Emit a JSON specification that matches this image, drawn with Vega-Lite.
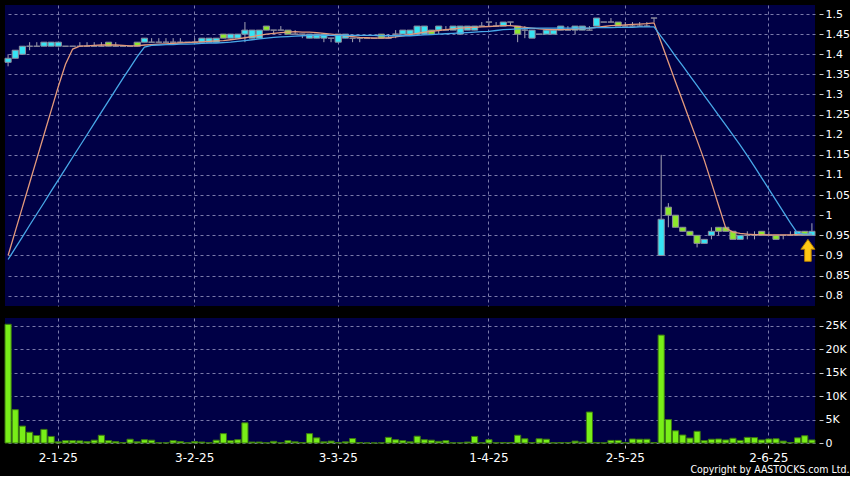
{
  "$schema": "https://vega.github.io/schema/vega-lite/v6.json",
  "background": "#000000",
  "padding": {"left": 4, "top": 5, "right": 0, "bottom": 0},
  "spacing": 12,
  "config": {
    "view": {"fill": "#000046", "stroke": null},
    "axis": {"gridColor": "#7a7aaa", "gridDash": [3, 3], "gridWidth": 1, "labelColor": "#ffffff", "labelFont": "DejaVu Sans", "domain": false, "tickColor": "#cccccc", "title": null, "labelOverlap": false}
  },
  "title": {"text": "Copyright by AASTOCKS.com Ltd.", "orient": "bottom", "anchor": "end", "color": "#ffffff", "fontSize": 10.5, "fontWeight": "normal", "font": "DejaVu Sans Condensed, Liberation Sans", "offset": 2},
  "datasets": {
    "d": [
      {"date": "19-12-24", "open": 1.38, "high": 1.40, "low": 1.37, "close": 1.39, "volume": 25300, "ma10": 0.90, "ma20": 0.89},
      {"date": "20-12-24", "open": 1.39, "high": 1.41, "low": 1.39, "close": 1.41, "volume": 7100, "ma10": 0.96, "ma20": 0.918},
      {"date": "23-12-24", "open": 1.40, "high": 1.42, "low": 1.40, "close": 1.42, "volume": 3600, "ma10": 1.02, "ma20": 0.946},
      {"date": "24-12-24", "open": 1.42, "high": 1.43, "low": 1.41, "close": 1.42, "volume": 2300, "ma10": 1.08, "ma20": 0.975},
      {"date": "27-12-24", "open": 1.42, "high": 1.43, "low": 1.42, "close": 1.42, "volume": 1600, "ma10": 1.14, "ma20": 1.003},
      {"date": "30-12-24", "open": 1.42, "high": 1.43, "low": 1.42, "close": 1.43, "volume": 2900, "ma10": 1.20, "ma20": 1.031},
      {"date": "31-12-24", "open": 1.42, "high": 1.43, "low": 1.42, "close": 1.43, "volume": 1400, "ma10": 1.26, "ma20": 1.06},
      {"date": "2-1-25", "open": 1.42, "high": 1.43, "low": 1.42, "close": 1.43, "volume": 250, "ma10": 1.32, "ma20": 1.088},
      {"date": "3-1-25", "open": 1.42, "high": 1.42, "low": 1.42, "close": 1.42, "volume": 500, "ma10": 1.375, "ma20": 1.116},
      {"date": "6-1-25", "open": 1.42, "high": 1.42, "low": 1.42, "close": 1.42, "volume": 500, "ma10": 1.413, "ma20": 1.144},
      {"date": "7-1-25", "open": 1.42, "high": 1.43, "low": 1.42, "close": 1.42, "volume": 450, "ma10": 1.42, "ma20": 1.172},
      {"date": "8-1-25", "open": 1.42, "high": 1.43, "low": 1.42, "close": 1.42, "volume": 300, "ma10": 1.421, "ma20": 1.20},
      {"date": "9-1-25", "open": 1.42, "high": 1.43, "low": 1.42, "close": 1.42, "volume": 600, "ma10": 1.422, "ma20": 1.228},
      {"date": "10-1-25", "open": 1.42, "high": 1.43, "low": 1.42, "close": 1.42, "volume": 1650, "ma10": 1.423, "ma20": 1.256},
      {"date": "13-1-25", "open": 1.43, "high": 1.43, "low": 1.42, "close": 1.42, "volume": 500, "ma10": 1.423, "ma20": 1.284},
      {"date": "14-1-25", "open": 1.42, "high": 1.43, "low": 1.42, "close": 1.42, "volume": 300, "ma10": 1.423, "ma20": 1.312},
      {"date": "15-1-25", "open": 1.42, "high": 1.42, "low": 1.42, "close": 1.42, "volume": 100, "ma10": 1.422, "ma20": 1.34},
      {"date": "16-1-25", "open": 1.42, "high": 1.42, "low": 1.42, "close": 1.42, "volume": 800, "ma10": 1.421, "ma20": 1.367},
      {"date": "17-1-25", "open": 1.43, "high": 1.43, "low": 1.42, "close": 1.42, "volume": 250, "ma10": 1.421, "ma20": 1.394},
      {"date": "20-1-25", "open": 1.43, "high": 1.44, "low": 1.43, "close": 1.44, "volume": 700, "ma10": 1.423, "ma20": 1.418},
      {"date": "21-1-25", "open": 1.43, "high": 1.44, "low": 1.43, "close": 1.43, "volume": 600, "ma10": 1.424, "ma20": 1.422},
      {"date": "22-1-25", "open": 1.43, "high": 1.44, "low": 1.43, "close": 1.43, "volume": 50, "ma10": 1.425, "ma20": 1.423},
      {"date": "23-1-25", "open": 1.43, "high": 1.44, "low": 1.43, "close": 1.43, "volume": 50, "ma10": 1.426, "ma20": 1.424},
      {"date": "24-1-25", "open": 1.43, "high": 1.44, "low": 1.43, "close": 1.43, "volume": 500, "ma10": 1.427, "ma20": 1.424},
      {"date": "27-1-25", "open": 1.43, "high": 1.44, "low": 1.43, "close": 1.43, "volume": 300, "ma10": 1.428, "ma20": 1.425},
      {"date": "28-1-25", "open": 1.43, "high": 1.43, "low": 1.43, "close": 1.43, "volume": 50, "ma10": 1.429, "ma20": 1.425},
      {"date": "3-2-25", "open": 1.43, "high": 1.44, "low": 1.43, "close": 1.43, "volume": 300, "ma10": 1.43, "ma20": 1.426},
      {"date": "4-2-25", "open": 1.43, "high": 1.44, "low": 1.43, "close": 1.44, "volume": 200, "ma10": 1.431, "ma20": 1.427},
      {"date": "5-2-25", "open": 1.43, "high": 1.44, "low": 1.43, "close": 1.44, "volume": 50, "ma10": 1.432, "ma20": 1.428},
      {"date": "6-2-25", "open": 1.43, "high": 1.44, "low": 1.43, "close": 1.44, "volume": 600, "ma10": 1.433, "ma20": 1.428},
      {"date": "7-2-25", "open": 1.45, "high": 1.45, "low": 1.44, "close": 1.44, "volume": 2000, "ma10": 1.434, "ma20": 1.429},
      {"date": "10-2-25", "open": 1.44, "high": 1.45, "low": 1.44, "close": 1.45, "volume": 500, "ma10": 1.436, "ma20": 1.43},
      {"date": "11-2-25", "open": 1.44, "high": 1.45, "low": 1.44, "close": 1.45, "volume": 700, "ma10": 1.438, "ma20": 1.432},
      {"date": "12-2-25", "open": 1.45, "high": 1.48, "low": 1.43, "close": 1.46, "volume": 4300, "ma10": 1.441, "ma20": 1.434},
      {"date": "13-2-25", "open": 1.44, "high": 1.46, "low": 1.44, "close": 1.46, "volume": 200, "ma10": 1.444, "ma20": 1.436},
      {"date": "14-2-25", "open": 1.44, "high": 1.46, "low": 1.44, "close": 1.46, "volume": 200, "ma10": 1.447, "ma20": 1.438},
      {"date": "17-2-25", "open": 1.47, "high": 1.47, "low": 1.46, "close": 1.46, "volume": 50, "ma10": 1.45, "ma20": 1.44},
      {"date": "18-2-25", "open": 1.46, "high": 1.46, "low": 1.45, "close": 1.46, "volume": 350, "ma10": 1.452, "ma20": 1.442},
      {"date": "19-2-25", "open": 1.46, "high": 1.47, "low": 1.46, "close": 1.46, "volume": 50, "ma10": 1.454, "ma20": 1.443},
      {"date": "20-2-25", "open": 1.46, "high": 1.46, "low": 1.45, "close": 1.45, "volume": 500, "ma10": 1.455, "ma20": 1.444},
      {"date": "21-2-25", "open": 1.45, "high": 1.46, "low": 1.45, "close": 1.45, "volume": 250, "ma10": 1.456, "ma20": 1.445},
      {"date": "24-2-25", "open": 1.45, "high": 1.45, "low": 1.44, "close": 1.45, "volume": 100, "ma10": 1.455, "ma20": 1.446},
      {"date": "25-2-25", "open": 1.44, "high": 1.45, "low": 1.44, "close": 1.45, "volume": 2000, "ma10": 1.455, "ma20": 1.447},
      {"date": "26-2-25", "open": 1.44, "high": 1.45, "low": 1.44, "close": 1.45, "volume": 1100, "ma10": 1.454, "ma20": 1.447},
      {"date": "27-2-25", "open": 1.44, "high": 1.45, "low": 1.43, "close": 1.45, "volume": 250, "ma10": 1.452, "ma20": 1.447},
      {"date": "28-2-25", "open": 1.44, "high": 1.44, "low": 1.43, "close": 1.44, "volume": 400, "ma10": 1.45, "ma20": 1.447},
      {"date": "3-3-25", "open": 1.43, "high": 1.45, "low": 1.43, "close": 1.45, "volume": 100, "ma10": 1.448, "ma20": 1.447},
      {"date": "4-3-25", "open": 1.44, "high": 1.45, "low": 1.44, "close": 1.45, "volume": 250, "ma10": 1.446, "ma20": 1.447},
      {"date": "5-3-25", "open": 1.44, "high": 1.44, "low": 1.43, "close": 1.44, "volume": 950, "ma10": 1.444, "ma20": 1.447},
      {"date": "6-3-25", "open": 1.44, "high": 1.44, "low": 1.43, "close": 1.44, "volume": 100, "ma10": 1.442, "ma20": 1.447},
      {"date": "7-3-25", "open": 1.44, "high": 1.44, "low": 1.44, "close": 1.44, "volume": 20, "ma10": 1.441, "ma20": 1.447},
      {"date": "10-3-25", "open": 1.44, "high": 1.44, "low": 1.44, "close": 1.44, "volume": 20, "ma10": 1.44, "ma20": 1.447},
      {"date": "11-3-25", "open": 1.45, "high": 1.45, "low": 1.44, "close": 1.44, "volume": 30, "ma10": 1.44, "ma20": 1.446},
      {"date": "12-3-25", "open": 1.44, "high": 1.45, "low": 1.44, "close": 1.44, "volume": 1200, "ma10": 1.441, "ma20": 1.446},
      {"date": "13-3-25", "open": 1.45, "high": 1.46, "low": 1.44, "close": 1.45, "volume": 700, "ma10": 1.443, "ma20": 1.446},
      {"date": "14-3-25", "open": 1.45, "high": 1.46, "low": 1.45, "close": 1.46, "volume": 500, "ma10": 1.446, "ma20": 1.446},
      {"date": "17-3-25", "open": 1.45, "high": 1.46, "low": 1.45, "close": 1.46, "volume": 250, "ma10": 1.449, "ma20": 1.446},
      {"date": "18-3-25", "open": 1.45, "high": 1.47, "low": 1.45, "close": 1.47, "volume": 1450, "ma10": 1.452, "ma20": 1.447},
      {"date": "19-3-25", "open": 1.45, "high": 1.47, "low": 1.45, "close": 1.47, "volume": 700, "ma10": 1.455, "ma20": 1.448},
      {"date": "20-3-25", "open": 1.46, "high": 1.46, "low": 1.45, "close": 1.45, "volume": 600, "ma10": 1.457, "ma20": 1.449},
      {"date": "21-3-25", "open": 1.46, "high": 1.47, "low": 1.45, "close": 1.47, "volume": 350, "ma10": 1.459, "ma20": 1.45},
      {"date": "24-3-25", "open": 1.46, "high": 1.47, "low": 1.46, "close": 1.46, "volume": 500, "ma10": 1.461, "ma20": 1.451},
      {"date": "25-3-25", "open": 1.46, "high": 1.47, "low": 1.46, "close": 1.47, "volume": 50, "ma10": 1.463, "ma20": 1.452},
      {"date": "26-3-25", "open": 1.45, "high": 1.47, "low": 1.45, "close": 1.47, "volume": 50, "ma10": 1.465, "ma20": 1.453},
      {"date": "27-3-25", "open": 1.46, "high": 1.47, "low": 1.46, "close": 1.47, "volume": 200, "ma10": 1.466, "ma20": 1.454},
      {"date": "28-3-25", "open": 1.46, "high": 1.47, "low": 1.46, "close": 1.47, "volume": 1400, "ma10": 1.467, "ma20": 1.455},
      {"date": "31-3-25", "open": 1.47, "high": 1.48, "low": 1.47, "close": 1.47, "volume": 50, "ma10": 1.468, "ma20": 1.456},
      {"date": "1-4-25", "open": 1.48, "high": 1.48, "low": 1.47, "close": 1.48, "volume": 700, "ma10": 1.469, "ma20": 1.457},
      {"date": "2-4-25", "open": 1.47, "high": 1.48, "low": 1.47, "close": 1.47, "volume": 50, "ma10": 1.47, "ma20": 1.459},
      {"date": "3-4-25", "open": 1.47, "high": 1.48, "low": 1.47, "close": 1.48, "volume": 100, "ma10": 1.471, "ma20": 1.461},
      {"date": "7-4-25", "open": 1.48, "high": 1.48, "low": 1.47, "close": 1.48, "volume": 100, "ma10": 1.471, "ma20": 1.462},
      {"date": "8-4-25", "open": 1.47, "high": 1.47, "low": 1.43, "close": 1.45, "volume": 1650, "ma10": 1.469, "ma20": 1.463},
      {"date": "9-4-25", "open": 1.46, "high": 1.47, "low": 1.44, "close": 1.46, "volume": 900, "ma10": 1.467, "ma20": 1.464},
      {"date": "10-4-25", "open": 1.44, "high": 1.46, "low": 1.44, "close": 1.46, "volume": 100, "ma10": 1.465, "ma20": 1.465},
      {"date": "11-4-25", "open": 1.45, "high": 1.45, "low": 1.45, "close": 1.45, "volume": 900, "ma10": 1.463, "ma20": 1.465},
      {"date": "14-4-25", "open": 1.45, "high": 1.46, "low": 1.45, "close": 1.46, "volume": 800, "ma10": 1.462, "ma20": 1.465},
      {"date": "15-4-25", "open": 1.45, "high": 1.46, "low": 1.45, "close": 1.46, "volume": 50, "ma10": 1.461, "ma20": 1.465},
      {"date": "16-4-25", "open": 1.46, "high": 1.47, "low": 1.46, "close": 1.47, "volume": 100, "ma10": 1.461, "ma20": 1.465},
      {"date": "17-4-25", "open": 1.46, "high": 1.47, "low": 1.46, "close": 1.46, "volume": 100, "ma10": 1.462, "ma20": 1.465},
      {"date": "22-4-25", "open": 1.46, "high": 1.47, "low": 1.45, "close": 1.47, "volume": 400, "ma10": 1.463, "ma20": 1.465},
      {"date": "23-4-25", "open": 1.46, "high": 1.47, "low": 1.46, "close": 1.47, "volume": 200, "ma10": 1.464, "ma20": 1.465},
      {"date": "24-4-25", "open": 1.46, "high": 1.47, "low": 1.46, "close": 1.46, "volume": 6600, "ma10": 1.465, "ma20": 1.465},
      {"date": "25-4-25", "open": 1.47, "high": 1.49, "low": 1.47, "close": 1.49, "volume": 100, "ma10": 1.467, "ma20": 1.466},
      {"date": "28-4-25", "open": 1.48, "high": 1.48, "low": 1.48, "close": 1.48, "volume": 30, "ma10": 1.469, "ma20": 1.466},
      {"date": "29-4-25", "open": 1.48, "high": 1.49, "low": 1.48, "close": 1.48, "volume": 550, "ma10": 1.471, "ma20": 1.466},
      {"date": "30-4-25", "open": 1.48, "high": 1.48, "low": 1.47, "close": 1.47, "volume": 550, "ma10": 1.472, "ma20": 1.467},
      {"date": "2-5-25", "open": 1.47, "high": 1.48, "low": 1.47, "close": 1.47, "volume": 100, "ma10": 1.473, "ma20": 1.467},
      {"date": "6-5-25", "open": 1.47, "high": 1.48, "low": 1.47, "close": 1.47, "volume": 850, "ma10": 1.474, "ma20": 1.467},
      {"date": "7-5-25", "open": 1.47, "high": 1.48, "low": 1.47, "close": 1.47, "volume": 800, "ma10": 1.475, "ma20": 1.468},
      {"date": "8-5-25", "open": 1.47, "high": 1.48, "low": 1.47, "close": 1.47, "volume": 800, "ma10": 1.476, "ma20": 1.468},
      {"date": "9-5-25", "open": 1.49, "high": 1.49, "low": 1.48, "close": 1.49, "volume": 100, "ma10": 1.478, "ma20": 1.468},
      {"date": "12-5-25", "open": 0.90, "high": 1.15, "low": 0.90, "close": 0.99, "volume": 23000, "ma10": 1.429, "ma20": 1.444},
      {"date": "13-5-25", "open": 1.02, "high": 1.03, "low": 0.97, "close": 1.00, "volume": 5000, "ma10": 1.38, "ma20": 1.42},
      {"date": "14-5-25", "open": 1.00, "high": 1.00, "low": 0.97, "close": 0.97, "volume": 2600, "ma10": 1.331, "ma20": 1.395},
      {"date": "15-5-25", "open": 0.97, "high": 0.97, "low": 0.96, "close": 0.96, "volume": 1700, "ma10": 1.283, "ma20": 1.371},
      {"date": "16-5-25", "open": 0.96, "high": 0.96, "low": 0.95, "close": 0.95, "volume": 1050, "ma10": 1.234, "ma20": 1.346},
      {"date": "19-5-25", "open": 0.95, "high": 0.95, "low": 0.92, "close": 0.93, "volume": 2500, "ma10": 1.186, "ma20": 1.322},
      {"date": "20-5-25", "open": 0.93, "high": 0.94, "low": 0.93, "close": 0.94, "volume": 500, "ma10": 1.137, "ma20": 1.297},
      {"date": "21-5-25", "open": 0.95, "high": 0.97, "low": 0.94, "close": 0.96, "volume": 800, "ma10": 1.081, "ma20": 1.273},
      {"date": "22-5-25", "open": 0.97, "high": 0.97, "low": 0.95, "close": 0.96, "volume": 850, "ma10": 1.024, "ma20": 1.248},
      {"date": "23-5-25", "open": 0.97, "high": 0.97, "low": 0.96, "close": 0.96, "volume": 650, "ma10": 0.968, "ma20": 1.224},
      {"date": "26-5-25", "open": 0.96, "high": 0.96, "low": 0.94, "close": 0.94, "volume": 1000, "ma10": 0.958, "ma20": 1.199},
      {"date": "27-5-25", "open": 0.94, "high": 0.95, "low": 0.94, "close": 0.95, "volume": 550, "ma10": 0.955, "ma20": 1.174},
      {"date": "28-5-25", "open": 0.95, "high": 0.96, "low": 0.94, "close": 0.95, "volume": 1200, "ma10": 0.953, "ma20": 1.148},
      {"date": "29-5-25", "open": 0.95, "high": 0.96, "low": 0.94, "close": 0.95, "volume": 1150, "ma10": 0.952, "ma20": 1.121},
      {"date": "30-5-25", "open": 0.96, "high": 0.96, "low": 0.95, "close": 0.95, "volume": 650, "ma10": 0.952, "ma20": 1.093},
      {"date": "2-6-25", "open": 0.95, "high": 0.96, "low": 0.95, "close": 0.95, "volume": 850, "ma10": 0.951, "ma20": 1.065},
      {"date": "3-6-25", "open": 0.95, "high": 0.95, "low": 0.94, "close": 0.94, "volume": 900, "ma10": 0.951, "ma20": 1.037},
      {"date": "4-6-25", "open": 0.95, "high": 0.95, "low": 0.94, "close": 0.95, "volume": 400, "ma10": 0.951, "ma20": 1.009},
      {"date": "5-6-25", "open": 0.95, "high": 0.96, "low": 0.95, "close": 0.95, "volume": 100, "ma10": 0.951, "ma20": 0.981},
      {"date": "6-6-25", "open": 0.95, "high": 0.96, "low": 0.95, "close": 0.96, "volume": 1100, "ma10": 0.952, "ma20": 0.955},
      {"date": "9-6-25", "open": 0.96, "high": 0.96, "low": 0.95, "close": 0.95, "volume": 1550, "ma10": 0.952, "ma20": 0.953},
      {"date": "10-6-25", "open": 0.95, "high": 0.98, "low": 0.95, "close": 0.96, "volume": 650, "ma10": 0.953, "ma20": 0.953}
    ]
  },
  "vconcat": [
    {
      "width": 810,
      "height": 301,
      "data": {"name": "d"},
      "encoding": {
        "x": {"field": "date", "type": "ordinal", "sort": null, "scale": {"paddingInner": 0.14, "paddingOuter": 0}, "axis": {"values": ["2-1-25", "3-2-25", "3-3-25", "1-4-25", "2-5-25", "2-6-25"], "labels": false, "ticks": false, "grid": true, "title": null}}
      },
      "layer": [
        {
          "mark": {"type": "rule", "color": "#a4a4b4", "strokeWidth": 1},
          "encoding": {
            "y": {"field": "low", "type": "quantitative", "scale": {"domain": [0.7744, 1.5224], "nice": false, "zero": false}, "axis": {"orient": "right", "values": [0.8, 0.85, 0.9, 0.95, 1, 1.05, 1.1, 1.15, 1.2, 1.25, 1.3, 1.35, 1.4, 1.45, 1.5], "tickCount": 30, "format": ".2~f", "tickSize": 4, "offset": 4, "labelPadding": 2, "labelFontSize": 11, "labelOverlap": false, "grid": true, "title": null}},
            "y2": {"field": "high"}
          }
        },
        {
          "mark": {"type": "bar", "stroke": "#8c8c9c", "strokeWidth": 1},
          "encoding": {
            "y": {"field": "open", "type": "quantitative"},
            "y2": {"field": "close"},
            "fill": {"condition": {"test": "datum.close > datum.open", "value": "#36e4f4"}, "value": "#8ee62e"}
          }
        },
        {
          "mark": {"type": "line", "color": "#e49a7c", "strokeWidth": 1.3},
          "encoding": {"y": {"field": "ma10", "type": "quantitative"}}
        },
        {
          "mark": {"type": "line", "color": "#48a8e8", "strokeWidth": 1.3},
          "encoding": {"y": {"field": "ma20", "type": "quantitative"}}
        },
        {
          "transform": [{"filter": "datum.date == '10-6-25'"}],
          "mark": {"type": "point", "shape": "M0,-1L0.64,-0.1L0.3,-0.1L0.3,1L-0.3,1L-0.3,-0.1L-0.64,-0.1Z", "size": 484, "filled": true, "fill": "#ffc814", "stroke": "#b07a00", "strokeWidth": 1, "opacity": 1, "yOffset": 15, "xOffset": -4},
          "encoding": {"y": {"field": "low", "type": "quantitative"}}
        }
      ]
    },
    {
      "width": 810,
      "height": 125,
      "data": {"name": "d"},
      "mark": {"type": "bar", "fill": "#78ee18", "stroke": "#3c7a10", "strokeWidth": 1},
      "encoding": {
        "x": {"field": "date", "type": "ordinal", "sort": null, "scale": {"paddingInner": 0.14, "paddingOuter": 0}, "axis": {"values": ["2-1-25", "3-2-25", "3-3-25", "1-4-25", "2-5-25", "2-6-25"], "labelAngle": 0, "tickSize": 3, "offset": 2, "labelPadding": 4, "labelFontSize": 12, "grid": true, "title": null}},
        "y": {"field": "volume", "type": "quantitative", "scale": {"domain": [0, 26640], "nice": false}, "axis": {"orient": "right", "values": [0, 5000, 10000, 15000, 20000, 25000], "tickCount": 30, "labelExpr": "datum.value == 0 ? '0' : (datum.value / 1000) + 'K'", "tickSize": 4, "offset": 4, "labelPadding": 2, "labelFontSize": 11, "labelOverlap": false, "grid": true, "title": null}}
      }
    }
  ]
}
